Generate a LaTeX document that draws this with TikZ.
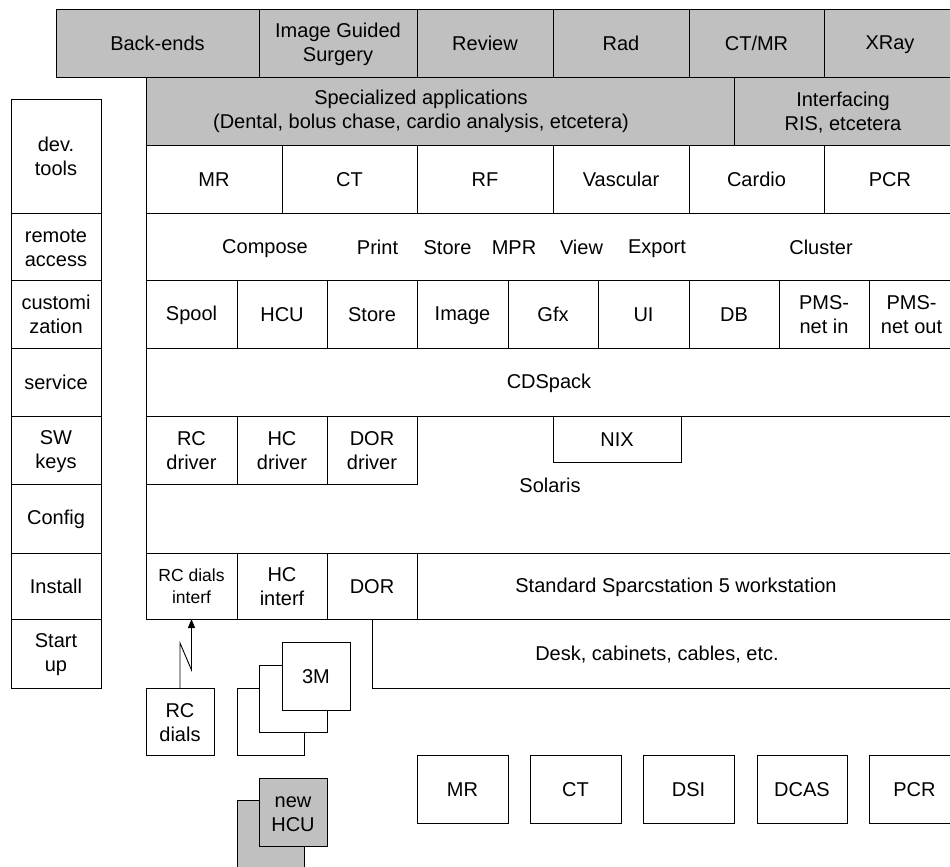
\documentclass[tikz,border=0pt]{standalone}
\usepackage{fontspec}
\setmainfont{Liberation Sans}
\usetikzlibrary{arrows.meta,calc}
\definecolor{panel}{HTML}{C0C0C0}
\newcommand\stt{\rule[-0.1em]{0pt}{0.95em}}
\newcommand\bx[7][]{\node[box,#1,minimum width={#5-#3},minimum height={#6-#4}] (#2) at ({(#3+#5)/2},{(#4+#6)/2}) {\stt #7\stt};}
\begin{document}
\begin{tikzpicture}[x=1pt,y=-1pt,
  box/.style={draw=black,line width=0.9pt,inner sep=0pt,outer sep=0pt,align=center,fill=white},
  gbox/.style={box,fill=panel},
  lbl/.style={inner sep=0pt,align=center,execute at begin node=\stt,execute at end node=\stt},
  small/.style={font=\fontsize{17.5}{22}\selectfont},
  font=\fontsize{20}{24}\selectfont]
\useasboundingbox (0,0) rectangle (950,867);
\clip (0,0) rectangle (950,867);
% top row
\bx[gbox]{be}{56}{9}{259}{77}{Back-ends}
\bx[gbox]{igs}{259}{9}{417}{77}{Image Guided\\Surgery}
\bx[gbox]{rev}{417}{9}{553}{77}{Review}
\bx[gbox]{rad}{553}{9}{689}{77}{Rad}
\bx[gbox]{ctmr}{689}{9}{824}{77}{CT/MR}
\bx[gbox]{xray}{824}{9}{956}{77}{XRay}
% specialized
\bx[gbox]{spec}{146}{77}{734}{145}{}
\node[lbl] (spectxt) at (421,111) {Specialized applications\\(Dental, bolus chase, cardio analysis, etcetera)};
\bx[gbox]{intf}{734}{77}{952}{145}{Interfacing\\RIS, etcetera}
% modalities
\bx{mr}{146}{145}{282}{213}{MR}
\bx{ct}{282}{145}{417}{213}{CT}
\bx{rf}{417}{145}{553}{213}{RF}
\bx{vasc}{553}{145}{689}{213}{Vascular}
\bx{cardio}{689}{145}{824}{213}{Cardio}
\bx{pcr}{824}{145}{956}{213}{PCR}
% compose row
\bx{comprow}{146}{213}{956}{280}{}
\node[lbl] (compose) at (265,247) {Compose};
\node[lbl] (print) at (377.5,247) {Print};
\node[lbl] (store1) at (447.5,247) {Store};
\node[lbl] (mpr) at (514,247) {MPR};
\node[lbl] (view) at (581.5,247) {View};
\node[lbl] (export) at (657,247) {Export};
\node[lbl] (cluster) at (821,247) {Cluster};
% services row
\bx{spool}{146}{280}{237}{348}{Spool}
\bx{hcu}{237}{280}{327}{348}{HCU}
\bx{store}{327}{280}{417}{348}{Store}
\bx{image}{417}{280}{508}{348}{Image}
\bx{gfx}{508}{280}{598}{348}{Gfx}
\bx{ui}{598}{280}{689}{348}{UI}
\bx{db}{689}{280}{779}{348}{DB}
\bx{pmsin}{779}{280}{869}{348}{PMS-\\net in}
\bx{pmsout}{869}{280}{954}{348}{PMS-\\net out}
% CDSpack
\bx{cds}{146}{348}{952}{416}{CDSpack}
% Solaris
\bx{sol}{146}{416}{954}{553}{}
\node[lbl] (soltxt) at (550,485) {Solaris};
\bx{rcdrv}{146}{416}{237}{484}{RC\\driver}
\bx{hcdrv}{237}{416}{327}{484}{HC\\driver}
\bx{dordrv}{327}{416}{417}{484}{DOR\\driver}
\bx{nix}{553}{416}{681}{462}{NIX}
% desk (drawn before hardware row)
\bx{desk}{372}{619}{954}{688}{}
\node[lbl] (desktxt) at (657,653) {Desk, cabinets, cables, etc.};
% hardware row
\bx[small]{rci}{146}{553}{237}{619}{RC dials\\interf}
\bx{hci}{237}{553}{327}{619}{HC\\interf}
\bx{dor}{327}{553}{417}{619}{DOR}
\bx{sparc}{417}{553}{954}{619}{}
\node[lbl] (sparctxt) at (676,586) {Standard Sparcstation 5 workstation};
% left column
\bx{dev}{11}{99}{101}{213}{dev.\\tools}
\bx{remote}{11}{213}{101}{280}{remote\\access}
\bx{custom}{11}{280}{101}{348}{customi\\zation}
\bx{service}{11}{348}{101}{416}{service}
\bx{swkeys}{11}{416}{101}{484}{SW\\keys}
\bx{config}{11}{484}{101}{553}{Config}
\bx{install}{11}{553}{101}{619}{Install}
\bx{startup}{11}{619}{101}{688}{Start\\up}
% RC dials
\bx{rcd}{146}{688}{214}{755}{RC\\dials}
\draw[line width=0.9pt,-{Triangle[length=9pt,width=7pt]}] (rcd.north) -- ++(0,-45) -- ($(rci.south)+(0,51)$) -- (rci.south);
% 3M stack
\bx{mA}{237}{688}{304}{755}{}
\bx{mB}{259}{665}{327}{732}{}
\bx{mC}{282}{642}{350}{710}{3M}
% new HCU
\bx[gbox]{nA}{237}{800}{304}{880}{}
\bx[gbox]{nB}{259}{778}{327}{846}{new\\HCU}
% bottom modalities
\bx{bmr}{417}{755}{508}{823}{MR}
\bx{bct}{530}{755}{621}{823}{CT}
\bx{bdsi}{643}{755}{734}{823}{DSI}
\bx{bdcas}{757}{755}{847}{823}{DCAS}
\bx{bpcr}{869}{755}{960}{823}{PCR}
\end{tikzpicture}
\end{document}
